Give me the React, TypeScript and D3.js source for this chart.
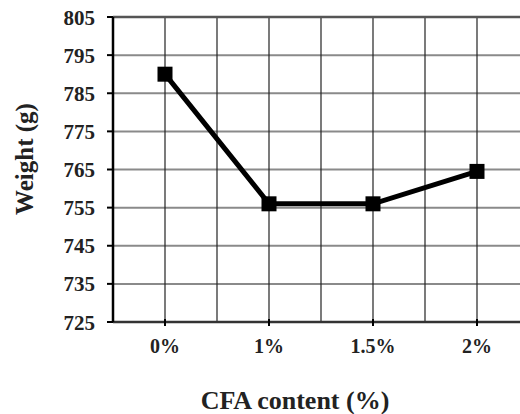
import React from "react";
import * as d3 from "d3";

const categories = ["0%", "1%", "1.5%", "2%"];
const weights = [790, 756, 756, 764.5];
const yTicks = [725, 735, 745, 755, 765, 775, 785, 795, 805];

const W = 520;
const H = 414;
const m = { left: 113, top: 17, right: 529, bottom: 322 };

export default function App() {
  const x = d3.scaleBand<string>().domain(categories).range([m.left, m.right]).paddingInner(0).paddingOuter(0);
  const y = d3.scaleLinear().domain([725, 805]).range([m.bottom, m.top]);
  const cx = (c: string) => (x(c) as number) + x.bandwidth() / 2;
  const line = d3
    .line<number>()
    .x((_, i) => cx(categories[i]))
    .y((d) => y(d));
  const vLines: number[] = [];
  categories.forEach((c) => {
    vLines.push(cx(c));
    vLines.push((x(c) as number) + x.bandwidth());
  });
  const font = "'Liberation Serif', 'Times New Roman', serif";
  return (
    <svg width={W} height={H} style={{ position: "absolute", left: 0, top: 0, background: "#fff" }}>
      {yTicks.slice(1).map((t) => (
        <line key={"h" + t} x1={m.left} x2={W} y1={y(t)} y2={y(t)} stroke="#8a8a8a" strokeWidth={2} />
      ))}
      {vLines.map((v, i) => (
        <line key={"v" + i} x1={v} x2={v} y1={m.top} y2={m.bottom} stroke="#222" strokeWidth={1.2} />
      ))}
      <line x1={m.left} x2={W} y1={m.top} y2={m.top} stroke="#555" strokeWidth={2.5} />
      <line x1={m.left} x2={W} y1={m.bottom} y2={m.bottom} stroke="#333" strokeWidth={2.5} />
      <line x1={m.left} x2={m.left} y1={m.top} y2={m.bottom} stroke="#000" strokeWidth={2.5} />
      {yTicks.map((t) => (
        <g key={"t" + t}>
          <line x1={m.left - 6} x2={m.left} y1={y(t)} y2={y(t)} stroke="#000" strokeWidth={2} />
          <text x={95} y={y(t) + 7.5} textAnchor="end" fontFamily={font} fontWeight="bold" fontSize={21} fill="#222">
            {t}
          </text>
        </g>
      ))}
      {categories.map((c) => (
        <g key={"c" + c}>
          <line x1={cx(c)} x2={cx(c)} y1={m.bottom - 3} y2={m.bottom + 4} stroke="#000" strokeWidth={2} />
          <text x={cx(c)} y={353} textAnchor="middle" fontFamily={font} fontWeight="bold" fontSize={20} fill="#222">
            {c}
          </text>
        </g>
      ))}
      <path d={line(weights) || ""} fill="none" stroke="#000" strokeWidth={5} strokeLinejoin="miter" />
      {weights.map((w, i) => (
        <rect key={"p" + i} x={cx(categories[i]) - 7.5} y={y(w) - 7.5} width={15} height={15} fill="#000" />
      ))}
      <text x={295} y={409} textAnchor="middle" fontFamily={font} fontWeight="bold" fontSize={26} fill="#222">
        CFA content (%)
      </text>
      <text
        transform={`translate(33,159) rotate(-90)`}
        textAnchor="middle"
        fontFamily={font}
        fontWeight="bold"
        fontSize={25}
        fill="#222"
      >
        Weight (g)
      </text>
    </svg>
  );
}
